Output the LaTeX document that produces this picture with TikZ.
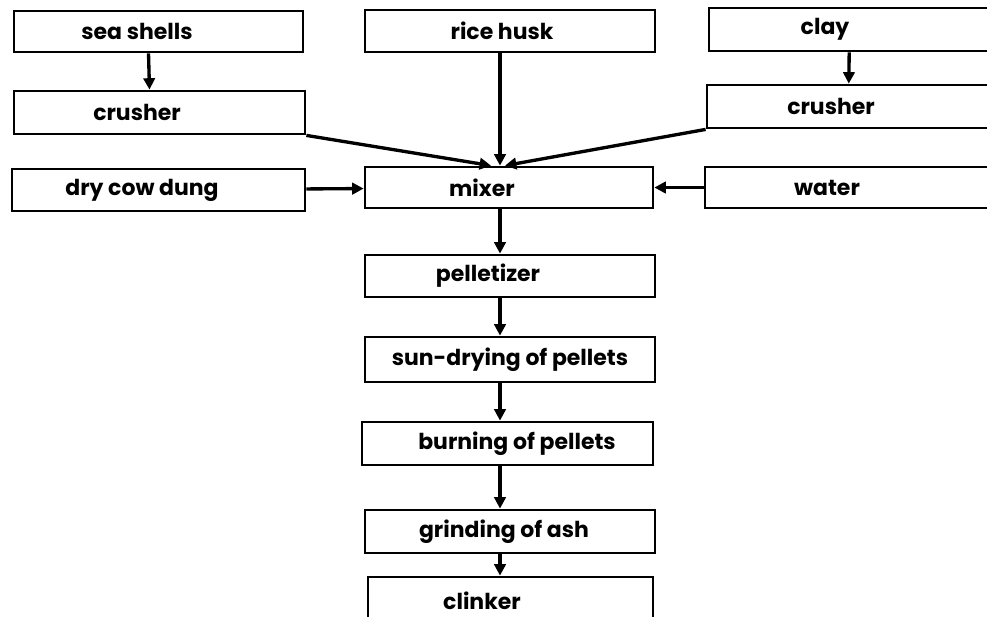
\documentclass[tikz,border=0pt]{standalone}
\usepackage{fontspec}
\setmainfont{Poppins}
\usetikzlibrary{arrows.meta}

\tikzset{
  box/.style={draw, line width=1.6pt, inner sep=0pt, font=\bfseries\fontsize{12.5}{14}\selectfont},
  tshift/.style={execute at end node={\hspace*{#1}}},
  flow/.style={line width=1.9pt, -{Triangle[length=6.5pt,width=6.5pt]}},
}

\begin{document}
\begin{tikzpicture}[x=0.02cm,y=-0.02cm]

\useasboundingbox (0,0) rectangle (987,616);
\clip (0,0) rectangle (987,616);

\coordinate (axis) at (500,0);

%left column
\node[box, tshift=0.86cm, minimum width=5.78cm, minimum height=0.82cm] (shells) at (158.5,31.5)  {sea shells};
\node[box, tshift=0.9cm,  minimum width=5.82cm, minimum height=0.86cm] (crushL) at (159.5,112.5) {crusher};
\node[box, tshift=0.66cm, minimum width=5.86cm, minimum height=0.84cm] (dung)   at (158.5,190)   {dry cow dung};
%
%middle column
\node[box, tshift=0.32cm, minimum width=5.8cm,  minimum height=0.84cm] (husk)   at (510,31)      {rice husk};
\node[box, tshift=1.08cm, minimum width=5.76cm, minimum height=0.82cm] (mixer)  at (509,187.5)   {mixer};
\node[box, tshift=0.88cm, minimum width=5.8cm,  minimum height=0.84cm] (pellet) at (510,276)     {pelletizer};
\node[box,                minimum width=5.8cm,  minimum height=0.9cm]  (sun)    at (510,359.5)   {sun-drying of pellets};
\node[box, tshift=-0.38cm,minimum width=5.82cm, minimum height=0.86cm] (burn)   at (507.5,443.5) {burning of pellets};
\node[box, tshift=0.24cm, minimum width=5.8cm,  minimum height=0.86cm] (grind)  at (510,531.5)   {grinding of ash};
\node[box, tshift=1.14cm, minimum width=5.7cm,  minimum height=0.96cm] (clinker) at (510.5,601)  {clinker};
%
%right column
\node[box, tshift=0.98cm, minimum width=5.62cm, minimum height=0.86cm] (clay)   at (849.5,29.5)  {clay};
\node[box, tshift=0.7cm,  minimum width=5.66cm, minimum height=0.86cm] (crushR) at (848.5,106.5) {crusher};
\node[box, tshift=0.82cm, minimum width=5.7cm,  minimum height=0.82cm] (water)  at (847.5,187.5) {water};

%feeds
\draw[flow] ([xshift=-0.2cm]shells.south) -- ([xshift=-0.2cm]crushL.north);
\draw[flow] (clay) -- (crushR);
\draw[flow] (husk.south -| axis) -- (mixer.north -| axis);
\draw[flow] (crushL.south east) -- ([xshift=-0.36cm]mixer.north);
\draw[flow] (crushR.south west) -- ([xshift=-0.08cm]mixer.north);
\draw[flow] (dung) -- (mixer);
\draw[flow] (water) -- (mixer);

%process chain
\foreach \a/\b in {mixer/pellet, pellet/sun, sun/burn, burn/grind, grind/clinker}
  \draw[flow] (\a.south -| axis) -- (\b.north -| axis);

\end{tikzpicture}
\end{document}
